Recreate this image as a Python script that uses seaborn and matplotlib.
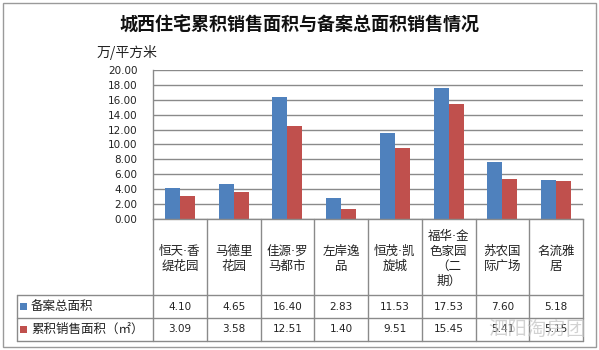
import numpy as np
import pandas as pd
import matplotlib
matplotlib.use("Agg")
import matplotlib.pyplot as plt
import seaborn as sns
from matplotlib.patches import Rectangle
from matplotlib.lines import Line2D

# ---- data ----
title = "城西住宅累积销售面积与备案总面积销售情况"
unit_label = "万/平方米"
categories = ["恒天·香缇花园", "马德里花园", "佳源·罗马都市", "左岸逸品",
              "恒茂·凯旋城", "福华·金色家园（二期）", "苏农国际广场", "名流雅居"]
tick_labels = ["恒天·香\n缇花园", "马德里\n花园", "佳源·罗\n马都市", "左岸逸\n品",
               "恒茂·凯\n旋城", "福华·金\n色家园\n（二\n期）", "苏农国\n际广场", "名流雅\n居"]
series_names = ["备案总面积", "累积销售面积（㎡）"]
filed_area = [4.10, 4.65, 16.40, 2.83, 11.53, 17.53, 7.60, 5.18]
sold_area = [3.09, 3.58, 12.51, 1.40, 9.51, 15.45, 5.41, 5.15]
y_ticks = [0, 2, 4, 6, 8, 10, 12, 14, 16, 18, 20]
watermark = "泗阳淘房团"

colors = ["#4F81BD", "#C0504D"]
grid_c = "#8a8a8a"
CJK = ["Noto Sans CJK SC", "DejaVu Sans"]
MIX = ["DejaVu Sans", "Noto Sans CJK SC"]

df = pd.DataFrame({
    "cat": categories * 2,
    "val": filed_area + sold_area,
    "series": [series_names[0]] * len(categories) + [series_names[1]] * len(categories),
})

sns.set_theme(style="white")
plt.rcParams["font.family"] = MIX

W, H = 599, 350
fig = plt.figure(figsize=(W / 100, H / 100), dpi=100)
fig.patch.set_facecolor("white")

def fx(px):
    return px / W

def fy(py):
    return 1 - py / H

# main plot area (pixels): x 153-583, y 70-219
ax = fig.add_axes([fx(153), fy(219), fx(583) - fx(153), fy(70) - fy(219)])
sns.barplot(data=df, x="cat", y="val", hue="series", palette=colors,
            width=0.56, saturation=1, ax=ax, legend=False, linewidth=0)
ax.set_ylim(0, 20)
ax.set_yticks(y_ticks)
ax.set_yticklabels([f"{v:.2f}" for v in y_ticks], fontsize=7.5, color="#222222")
ax.tick_params(axis="y", length=0, pad=11)
ax.tick_params(axis="x", length=0, labelbottom=False)
ax.set_xlabel("")
ax.set_ylabel("")
ax.yaxis.grid(True, color=grid_c, linewidth=1)
ax.xaxis.grid(False)
ax.set_axisbelow(True)
for s in ["top", "right"]:
    ax.spines[s].set_visible(False)
for s in ["left", "bottom"]:
    ax.spines[s].set_color(grid_c)
    ax.spines[s].set_linewidth(1)
xlim = ax.get_xlim()

# data table below (pixels): x 153-583, y 219-341; legend column from x=17
tab = fig.add_axes([fx(153), fy(341), fx(583) - fx(153), fy(219) - fy(341)])
tab.set_xlim(xlim)
tab.set_ylim(122, 0)  # pixel rows from top of table
tab.axis("off")
n = len(categories)
cat_w = (xlim[1] - xlim[0]) / n
left_x = xlim[0] - (153 - 17) / 430 * (xlim[1] - xlim[0])
row_cat, row1, row2 = 76, 99, 122
lw = 1
for i in range(n + 1):
    x = xlim[0] + i * cat_w
    tab.add_line(Line2D([x, x], [0, row2], color=grid_c, lw=lw, clip_on=False))
tab.add_line(Line2D([left_x, left_x], [row_cat, row2], color=grid_c, lw=lw, clip_on=False))
for yy in [row_cat, row1, row2]:
    tab.add_line(Line2D([left_x, xlim[1]], [yy, yy], color=grid_c, lw=lw, clip_on=False))

for i, lab in enumerate(tick_labels):
    tab.text(i, row_cat / 2 + 2, lab, ha="center", va="center", fontsize=9,
             linespacing=1.2, color="#222222", family=MIX)
for i in range(n):
    tab.text(i, (row_cat + row1) / 2, f"{filed_area[i]:.2f}", ha="center",
             va="center", fontsize=7.5, color="#222222")
    tab.text(i, (row1 + row2) / 2, f"{sold_area[i]:.2f}", ha="center",
             va="center", fontsize=7.5, color="#222222")

# legend keys in the table
for k, (name, yc) in enumerate(zip(series_names, [(row_cat + row1) / 2, (row1 + row2) / 2])):
    fig.patches.append(Rectangle((fx(20), fy(219 + yc + 3.5)), fx(7), (7 / H),
                                 transform=fig.transFigure, facecolor=colors[k],
                                 edgecolor="none"))
    fig.text(fx(31), fy(219 + yc), name, ha="left", va="center", fontsize=9,
             color="#222222", family=CJK)

# title & unit
fig.text(fx(299), fy(25), title, ha="center", va="center", fontsize=13,
         fontweight="bold", color="#111111", family=CJK)
fig.text(fx(97), fy(52), unit_label, ha="left", va="center", fontsize=10,
         color="#222222", family=CJK)

# watermark (semi-transparent overlay, as in the reference)
fig.text(fx(537), fy(329), watermark, ha="center", va="center", fontsize=14,
         color="#c4c4c4", alpha=0.75, family=CJK)

# outer border
fig.patches.append(Rectangle((fx(2.5), fy(346.5)), fx(593), 344 / H,
                             transform=fig.transFigure, facecolor="none",
                             edgecolor="#9a9a9a", linewidth=1))

fig.savefig("out.png", dpi=100)
